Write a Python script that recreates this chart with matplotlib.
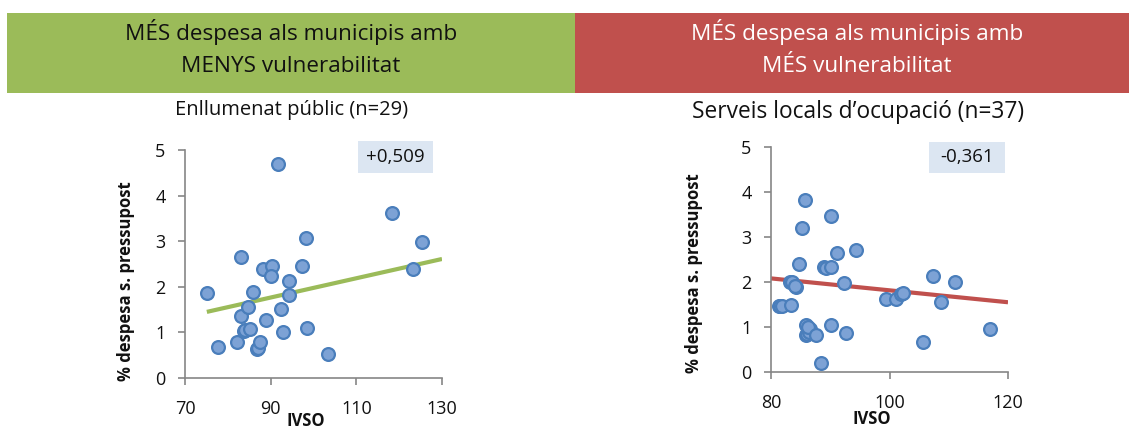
import matplotlib
matplotlib.use("Agg")
import matplotlib.pyplot as plt
from matplotlib.patches import Rectangle

plt.rcParams['font.family'] = ['Open Sans', 'DejaVu Sans']

# ---- data ----
left_x = [75.1, 77.6, 82.1, 83.1, 83.0, 83.8, 84.0, 84.7, 85.2, 85.9, 86.9, 87.1, 87.5,
          88.2, 88.9, 90.3, 90.0, 91.7, 92.4, 92.8, 94.2, 94.2, 97.2, 98.3, 98.4,
          103.5, 118.3, 123.2, 125.4]
left_y = [1.87, 0.68, 0.79, 2.66, 1.37, 1.04, 1.05, 1.56, 1.08, 1.89, 0.63, 0.66, 0.78,
          2.38, 1.28, 2.46, 2.24, 4.69, 1.52, 1.00, 2.13, 1.82, 2.45, 3.07, 1.10,
          0.53, 3.61, 2.39, 2.99]
left_trend_x = [75.1, 130.0]
left_trend_y = [1.45, 2.61]
left_r = "+0,509"

right_x = [81.35, 81.6, 81.9, 83.4, 83.2, 83.5, 84.2, 84.0, 84.7, 85.3, 85.7, 85.9, 85.9,
           86.1, 86.5, 86.4, 86.2, 87.6, 88.5, 89.0, 89.2, 90.1, 90.2, 90.1, 91.1, 92.4,
           92.6, 94.3, 99.4, 101.1, 102.0, 102.2, 105.6, 107.4, 108.7, 111.0, 116.9]
right_y = [1.47, 1.47, 1.47, 1.49, 2.00, 2.00, 1.90, 1.92, 2.39, 3.21, 3.83, 1.04, 0.83,
           0.85, 0.96, 0.90, 1.00, 0.83, 0.21, 2.33, 2.32, 3.46, 2.33, 1.04, 2.65, 1.97,
           0.87, 2.72, 1.63, 1.63, 1.73, 1.75, 0.67, 2.13, 1.56, 2.01, 0.96]
right_trend_x = [80.0, 120.0]
right_trend_y = [2.08, 1.55]
right_r = "-0,361"

banner_left = ["MÉS despesa als municipis amb", "MENYS vulnerabilitat"]
banner_right = ["MÉS despesa als municipis amb", "MÉS vulnerabilitat"]
title_left = "Enllumenat públic (n=29)"
title_right = "Serveis locals d\u2019ocupació (n=37)"
ylabel = "% despesa s. pressupost"
xlabel = "IVSO"

GREEN = "#9BBB59"
RED = "#C0504D"
MFILL = "#7DA2D5"
MEDGE = "#4A7EBB"
BOX = "#DCE6F2"
SPINE = "#868686"
TXT = "#111111"

W, H = 1129, 430
fig = plt.figure(figsize=(W / 100, H / 100), dpi=100)


def fx(px):
    return px / W


def fy(py):
    return 1 - py / H


# banners
fig.patches.append(Rectangle((fx(7), fy(93)), fx(575) - fx(7), fy(13) - fy(93),
                             transform=fig.transFigure, facecolor=GREEN, edgecolor='none', zorder=0))
fig.patches.append(Rectangle((fx(575), fy(93)), fx(1129) - fx(575), fy(13) - fy(93),
                             transform=fig.transFigure, facecolor=RED, edgecolor='none', zorder=0))
for line, base in zip(banner_left, [40, 72]):
    fig.text(fx(291), fy(base), line, ha='center', va='baseline', fontsize=16.2, color=TXT)
for line, base in zip(banner_right, [40, 72]):
    fig.text(fx(857), fy(base), line, ha='center', va='baseline', fontsize=16.2, color='white')

fig.text(fx(292), fy(115), title_left, ha='center', va='baseline', fontsize=14.5, color=TXT)
fig.text(fx(858), fy(118), title_right, ha='center', va='baseline', fontsize=16.4, color=TXT)


def make_axes(rect_px, xs, ys, tx, ty, color, xlim, xticks, rtext, box_px, ylab_px, xlab_px):
    x0, x1, y0, y1 = rect_px
    ax = fig.add_axes([fx(x0), fy(y1), fx(x1) - fx(x0), fy(y0) - fy(y1)])
    ax.scatter(xs, ys, s=85, facecolor=MFILL, edgecolor=MEDGE, linewidth=1.6, zorder=3,
               clip_on=False)
    ax.plot(tx, ty, color=color, lw=3, zorder=2, solid_capstyle='butt')
    ax.set_xlim(*xlim)
    ax.set_ylim(0, 5)
    ax.set_xticks(xticks)
    ax.set_yticks([0, 1, 2, 3, 4, 5])
    for s in ['top', 'right']:
        ax.spines[s].set_visible(False)
    for s in ['left', 'bottom']:
        ax.spines[s].set_color(SPINE)
        ax.spines[s].set_linewidth(1.2)
    ax.tick_params(axis='both', colors=SPINE, labelcolor=TXT, labelsize=13,
                   length=5, width=1.2, direction='out')
    ax.tick_params(axis='x', pad=11)
    ax.tick_params(axis='y', pad=9)
    ax.set_ylabel(ylabel, fontsize=12, fontweight='bold', color=TXT)
    ax.set_xlabel(xlabel, fontsize=12, fontweight='bold', color=TXT)
    w = x1 - x0
    h = y1 - y0
    ax.yaxis.set_label_coords((ylab_px[0] - x0) / w, (y1 - ylab_px[1]) / h)
    ax.yaxis.label.set_va('center')
    ax.xaxis.set_label_coords((xlab_px[0] - x0) / w, (y1 - xlab_px[1]) / h)
    ax.xaxis.label.set_va('center')
    bx0, bx1, by0, by1 = box_px
    fig.patches.append(Rectangle((fx(bx0), fy(by1)), fx(bx1) - fx(bx0), fy(by0) - fy(by1),
                                 transform=fig.transFigure, facecolor=BOX, edgecolor='none',
                                 zorder=1))
    fig.text(fx((bx0 + bx1) / 2), fy((by0 + by1) / 2), rtext, ha='center', va='center',
             fontsize=13.5, color=TXT, zorder=2)
    return ax


make_axes((185, 442, 150, 378), left_x, left_y, left_trend_x, left_trend_y, GREEN,
          (70, 130), [70, 90, 110, 130], left_r, (358, 433, 141, 173), (126, 281), (306, 421))
make_axes((771, 1008, 147, 372), right_x, right_y, right_trend_x, right_trend_y, RED,
          (80, 120), [80, 100, 120], right_r, (929, 1005, 142, 173), (694, 273), (872, 419))

fig.savefig("out.png", dpi=100)
